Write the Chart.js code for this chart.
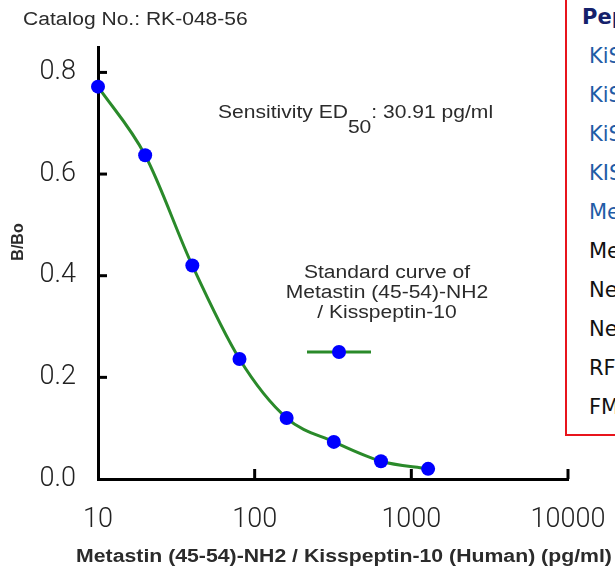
<!DOCTYPE html>
<html lang="en">
<head>
  <meta charset="UTF-8" />
  <title>Standard curve RK-048-56</title>
  <script src="https://cdn.jsdelivr.net/npm/chart.js"></script>
  <style>
    html, body {
      margin: 0;
      padding: 0;
      background: #fff;
      overflow: hidden;
    }
    body {
      position: relative;
      width: 615px;
      height: 569px;
    }
    canvas#chart {
      position: absolute;
      left: 0;
      top: 0;
    }
    #peptides {
      position: absolute;
      left: 565px;
      top: -10px;
      width: 90px;
      height: 446px;
      border: 2px solid #e8141c;
      background: #fff;
      box-sizing: border-box;
      padding-top: 6px;
      font-family: 'DejaVu Sans', Verdana, sans-serif;
      font-size: 21px;
      line-height: 39px;
      white-space: nowrap;
    }
    #peptides div { padding-left: 22px; color: #111; }
    #peptides div.head { padding-left: 15px; font-weight: bold; color: #15216b; }
    #peptides div.blue { color: #1f5ca6; }
  </style>
</head>
<body>
  <canvas id="chart" width="615" height="569"></canvas>
  <div id="peptides"></div>

  <script>
    // valeurs
    const concentrations = [10, 20, 40, 80, 160, 320, 640, 1280];
    const bBo = [0.772, 0.637, 0.42, 0.236, 0.12, 0.073, 0.035, 0.02];
    const xTicks = [10, 100, 1000, 10000];
    const yTicks = [0, 0.2, 0.4, 0.6, 0.8];
    const peptideHead = 'Pep';
    const peptideBlue = ['KiS', 'KiS', 'KiS', 'KIS', 'Me'];
    const peptideBlack = ['Me', 'Ne', 'Ne', 'RF', 'FM'];

    const box = document.getElementById('peptides');
    const addLine = (txt, cls) => {
      const d = document.createElement('div');
      d.textContent = txt;
      if (cls) d.className = cls;
      box.appendChild(d);
    };
    addLine(peptideHead, 'head');
    peptideBlue.forEach(t => addLine(t, 'blue'));
    peptideBlack.forEach(t => addLine(t));

    const green = '#2a8a2a';
    const blue = '#0000ff';
    const textFont = '"Liberation Sans", Arial, sans-serif';
    const SX = 1.17;

    function wideText(ctx, text, x, y, align) {
      ctx.save();
      ctx.translate(x, y);
      ctx.scale(SX, 1);
      ctx.textAlign = align || 'left';
      ctx.fillText(text, 0, 0);
      ctx.restore();
    }

    const extras = {
      id: 'extras',
      afterDraw(chart) {
        const ctx = chart.ctx;
        const xs = chart.scales.x, ys = chart.scales.y;
        const area = chart.chartArea;

        // petites graduations vers l'intérieur
        ctx.save();
        ctx.strokeStyle = '#000';
        ctx.lineWidth = 3;
        yTicks.slice(1).forEach(v => {
          const py = ys.getPixelForValue(v);
          ctx.beginPath();
          ctx.moveTo(area.left, py);
          ctx.lineTo(area.left + 9, py);
          ctx.stroke();
        });
        xTicks.slice(1).forEach(v => {
          const px = xs.getPixelForValue(v);
          ctx.beginPath();
          ctx.moveTo(px, area.bottom);
          ctx.lineTo(px, area.bottom - 10);
          ctx.stroke();
        });
        ctx.restore();

        ctx.save();
        ctx.fillStyle = '#2b2b2b';
        ctx.textBaseline = 'alphabetic';

        // catalogue
        ctx.font = '18px ' + textFont;
        wideText(ctx, 'Catalog No.: RK-048-56', 23, 25);

        // sensibilité ED50
        let x = 218;
        const part1 = 'Sensitivity ED';
        wideText(ctx, part1, x, 118);
        x += ctx.measureText(part1).width * SX;
        wideText(ctx, '50', x, 133);
        x += ctx.measureText('50').width * SX;
        wideText(ctx, ': 30.91 pg/ml', x, 118);

        // légende
        ['Standard curve of', 'Metastin (45-54)-NH2', '/ Kisspeptin-10'].forEach((t, i) => {
          wideText(ctx, t, 387, 278 + i * 20, 'center');
        });
        ctx.strokeStyle = green;
        ctx.lineWidth = 3;
        ctx.beginPath();
        ctx.moveTo(307, 352);
        ctx.lineTo(371, 352);
        ctx.stroke();
        ctx.fillStyle = blue;
        ctx.beginPath();
        ctx.arc(339, 352, 7, 0, Math.PI * 2);
        ctx.fill();

        // titres des axes
        ctx.fillStyle = '#2b2b2b';
        ctx.font = 'bold 18px ' + textFont;
        ctx.save();
        ctx.translate(344, 562);
        ctx.scale(1.18, 1);
        ctx.textAlign = 'center';
        ctx.fillText('Metastin (45-54)-NH2 / Kisspeptin-10 (Human) (pg/ml)', 0, 0);
        ctx.restore();

        ctx.font = 'bold 16px ' + textFont;
        ctx.translate(23, 242);
        ctx.rotate(-Math.PI / 2);
        ctx.textAlign = 'center';
        ctx.fillText('B/Bo', 0, 0);
        ctx.restore();
      }
    };

    const tickFont = { family: 'Roboto', size: 27, weight: '300' };

    const chart = new Chart(document.getElementById('chart'), {
      type: 'line',
      data: {
        datasets: [{
          label: 'Standard curve of Metastin (45-54)-NH2 / Kisspeptin-10',
          data: concentrations.map((c, i) => ({ x: c, y: bBo[i] })),
          borderColor: green,
          borderWidth: 3,
          cubicInterpolationMode: 'monotone',
          pointRadius: 7,
          pointHoverRadius: 7,
          pointBackgroundColor: blue,
          pointBorderColor: blue,
          pointBorderWidth: 0,
          fill: false,
          clip: false
        }]
      },
      options: {
        responsive: false,
        animation: false,
        devicePixelRatio: 1,
        layout: { padding: { top: 47, right: 47, left: 0, bottom: 0 } },
        plugins: {
          legend: { display: false },
          tooltip: { enabled: false }
        },
        scales: {
          x: {
            type: 'logarithmic',
            min: 10,
            max: 10000,
            afterFit: s => {
              s.height = 90;
              s.paddingLeft = 0;
              s.paddingRight = 0;
            },
            afterBuildTicks: s => { s.ticks = xTicks.map(v => ({ value: v })); },
            grid: { display: false, drawTicks: false },
            border: { display: true, color: '#000', width: 3 },
            ticks: {
              padding: 25,
              color: '#222',
              font: tickFont,
              maxRotation: 0,
              autoSkip: false,
              callback: v => String(v)
            }
          },
          y: {
            min: 0,
            max: 0.85,
            afterFit: s => {
              s.width = 98;
              s.paddingTop = 0;
              s.paddingBottom = 0;
            },
            afterBuildTicks: s => { s.ticks = yTicks.map(v => ({ value: v })); },
            grid: { display: false, drawTicks: false },
            border: { display: true, color: '#000', width: 3 },
            ticks: {
              padding: 22,
              color: '#222',
              font: tickFont,
              callback: v => v.toFixed(1)
            }
          }
        }
      },
      plugins: [extras]
    });
  </script>
</body>
</html>
